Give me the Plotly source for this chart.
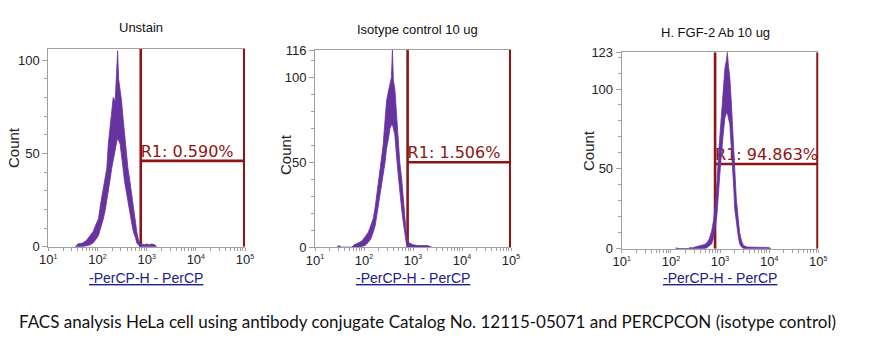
import plotly.graph_objects as go

W, H = 894, 355

# ---------------- data ----------------
titles = ["Unstain", "Isotype control 10 ug", "H. FGF-2 Ab 10 ug"]
gate_labels = ["R1: 0.590%", "R1: 1.506%", "R1: 94.863%"]
y_max = [106, 116, 123]
y_ticks = [[0, 50, 100], [0, 50, 100, 116], [0, 50, 100, 123]]

# gate: lower bound (decade), upper bound (decade), marker level (count)
gate_lo = [2.88, 2.89, 2.90]
gate_hi = [4.985, 4.985, 4.985]
gate_level = [46, 50, 53]

# histogram envelopes (decade position, upper count, lower count)
p1_dec = [1.55, 1.60, 1.70, 1.78, 1.85, 1.91, 1.97, 2.02, 2.07, 2.12, 2.16, 2.19, 2.22, 2.25,
          2.29, 2.32, 2.36, 2.39, 2.41, 2.43, 2.46, 2.49, 2.52, 2.55, 2.59, 2.62, 2.66, 2.70,
          2.73, 2.77, 2.80, 2.83, 2.86, 2.90, 2.95, 3.00, 3.05, 3.10, 3.17, 3.20]
p1_up = [0, 1.5, 2, 3.5, 6, 8, 12, 15, 24, 31, 37, 42, 55, 62,
         72, 80, 78, 92, 105, 90, 85, 78, 69, 60, 49, 42, 35, 27,
         19, 13, 8, 4, 2, 1.5, 1, 1.5, 1, 1.5, 1, 0]
p1_lo = [0, 0, 0, 0.5, 1, 2, 4, 6, 10, 15, 20, 24, 29, 35,
         42, 48, 52, 56, 58, 57, 55, 48, 42, 35, 28, 23, 18, 12,
         8, 5, 2, 1, 0, 0, 0, 0, 0, 0, 0, 0]

p2_dec = [1.45, 1.49, 1.53, 1.75, 1.80, 1.88, 1.95, 2.02, 2.09, 2.14, 2.19, 2.23, 2.26, 2.30,
          2.33, 2.36, 2.39, 2.43, 2.46, 2.50, 2.53, 2.56, 2.58, 2.60, 2.63, 2.66, 2.69, 2.71,
          2.73, 2.77, 2.80, 2.83, 2.86, 2.90, 2.95, 3.00, 3.10, 3.20, 3.30, 3.38]
p2_up = [0, 1, 0, 0, 1.5, 2.5, 3.5, 6, 9, 13, 17, 24, 31, 38,
         44, 52, 60, 75, 86, 92, 97, 100, 116, 98, 93, 80, 70, 60,
         50, 40, 29, 18, 9, 3, 2, 1.5, 1, 1, 1, 0]
p2_lo = [0, 0, 0, 0, 0, 0, 0.5, 1, 3, 5, 9, 13, 18, 24,
         30, 36, 42, 50, 58, 64, 70, 72, 72, 70, 66, 55, 45, 38,
         32, 22, 15, 8, 3, 0, 0, 0, 0, 0, 0, 0]

p3_dec = [2.10, 2.12, 2.14, 2.36, 2.39, 2.45, 2.49, 2.53, 2.60, 2.67, 2.73, 2.78, 2.83, 2.87,
          2.90, 2.94, 2.97, 3.00, 3.03, 3.06, 3.10, 3.13, 3.15, 3.17, 3.20, 3.23, 3.26, 3.28,
          3.30, 3.33, 3.37, 3.40, 3.44, 3.48, 3.55, 3.65, 3.75, 3.85, 3.95, 4.02, 4.03]
p3_up = [0, 0.7, 0, 0, 0.7, 0.5, 1, 1.3, 1.5, 2.5, 3.5, 6, 11, 18,
         27, 42, 59, 72, 86, 98, 113, 118, 123, 115, 107, 92, 75, 60,
         44, 32, 19, 10, 4.5, 2, 1, 1, 0.8, 1, 0.8, 0.5, 0]
p3_lo = [0, 0, 0, 0, 0, 0, 0, 0, 0, 0, 0.5, 1.5, 3, 7,
         12, 22, 35, 48, 60, 70, 82, 85, 85, 82, 78, 65, 50, 38,
         25, 16, 8, 3, 1, 0, 0, 0, 0, 0, 0, 0, 0]

decades = [1, 2, 3, 4, 5]

panels = [(p1_dec, p1_up, p1_lo), (p2_dec, p2_up, p2_lo), (p3_dec, p3_up, p3_lo)]

# ---------------- layout geometry (pixels) ----------------
px_x = [(48.3, 245.0), (315.0, 511.0), (621.7, 818.3)]
px_y = [(49.0, 246.7), (50.0, 247.3), (52.3, 248.7)]
count_xy = [(13, 148), (285, 155), (588, 151)]
xtitle_x = [146, 413, 720]
title_xy = [(141, 27), (417, 29), (715, 33)]

HIST = "#6633A0"
GATE = "#8E1515"
AXC = "#A0A0A0"
TXT = "#222222"

fig = go.Figure()
layout = dict(width=W, height=H, margin=dict(l=0, r=0, t=0, b=0, autoexpand=False),
              paper_bgcolor="white", plot_bgcolor="white", showlegend=False)

# x tick values: decades plus minor positions
x_tickvals, x_ticktext = [], []
for d in decades:
    for m in range(1, 10):
        if d == 5 and m > 1:
            break
        x_tickvals.append(m * 10 ** d)
        x_ticktext.append(
            f"10<sup><span style='font-size:7px'>{d}</span></sup>" if m == 1 else "")

annotations = []
for i in range(3):
    xa = "xaxis" if i == 0 else f"xaxis{i+1}"
    ya = "yaxis" if i == 0 else f"yaxis{i+1}"
    xr = "x" if i == 0 else f"x{i+1}"
    yr = "y" if i == 0 else f"y{i+1}"
    x0, x1 = px_x[i]
    yt, yb = px_y[i]
    layout[xa] = dict(type="log", range=[1, 5], domain=[x0 / W, x1 / W], anchor=yr,
                      automargin=False,
                      showgrid=False, zeroline=False, showline=True, linecolor=AXC,
                      linewidth=1, mirror=True, ticks="outside", ticklen=3, tickcolor=AXC,
                      ticklabelstandoff=-2,
                      tickvals=x_tickvals, ticktext=x_ticktext,
                      tickfont=dict(family="Liberation Sans", size=13, color=TXT))
    layout[ya] = dict(range=[0, y_max[i]], domain=[1 - yb / H, 1 - yt / H], anchor=xr,
                      automargin=False,
                      showgrid=False, zeroline=False, showline=True, linecolor=AXC,
                      linewidth=1, ticks="outside", ticklen=5, tickcolor=AXC,
                      tickvals=y_ticks[i], ticktext=[str(v) for v in y_ticks[i]],
                      minor=dict(tickmode="linear", tick0=0, dtick=10, ticks="outside",
                                 ticklen=3, tickcolor=AXC, showgrid=False),
                      tickfont=dict(family="Liberation Sans", size=13, color=TXT))

    lo = 10 ** gate_lo[i]
    hi = 10 ** gate_hi[i]
    lvl = gate_level[i]
    # gate lines
    fig.add_trace(go.Scatter(x=[lo, lo, None, hi, hi, None, lo, hi],
                             y=[0, y_max[i], None, 0, y_max[i], None, lvl, lvl],
                             mode="lines", line=dict(color=GATE, width=2.6),
                             xaxis=xr, yaxis=yr, hoverinfo="skip"))
    # gate label
    fig.add_trace(go.Scatter(x=[lo], y=[lvl], mode="text", text=[gate_labels[i]],
                             textposition="top right",
                             textfont=dict(family="DejaVu Sans", size=16, color=GATE),
                             xaxis=xr, yaxis=yr, hoverinfo="skip"))
    # histogram band
    dec, up, lw = panels[i]
    xs = [10 ** v for v in dec]
    fig.add_trace(go.Scatter(x=xs + xs[::-1], y=up + lw[::-1], mode="lines",
                             fill="toself", fillcolor=HIST,
                             line=dict(color=HIST, width=0.8),
                             xaxis=xr, yaxis=yr, hoverinfo="skip"))

    # x-axis title (underlined)
    annotations.append(dict(text="<u>-PerCP-H - PerCP</u>", x=xtitle_x[i] / W,
                            y=1 - 278 / H, xref="paper", yref="paper", showarrow=False,
                            xanchor="center", yanchor="middle",
                            font=dict(family="Liberation Sans", size=14, color="#20208A")))
    # y-axis title
    annotations.append(dict(text="Count", x=count_xy[i][0] / W, y=1 - count_xy[i][1] / H,
                            xref="paper", yref="paper", showarrow=False, textangle=-90,
                            xanchor="center", yanchor="middle",
                            font=dict(family="Liberation Sans", size=15, color=TXT)))
    # panel title
    annotations.append(dict(text=titles[i], x=title_xy[i][0] / W,
                            y=1 - title_xy[i][1] / H, xref="paper", yref="paper",
                            showarrow=False, xanchor="center", yanchor="middle",
                            font=dict(family="Liberation Sans", size=13, color="#111111")))

annotations.append(dict(
    text="FACS analysis HeLa cell using antibody conjugate Catalog No. 12115-05071 and PERCPCON (isotype control)",
    x=17 / W, y=1 - 321 / H, xref="paper", yref="paper", showarrow=False,
    xanchor="left", yanchor="middle",
    font=dict(family="Lato", size=17, color="#111111")))

layout["annotations"] = annotations
fig.update_layout(**layout)
fig.write_html("out.html", config={"displayModeBar": False},
               post_script="document.body.style.margin='0px';document.body.style.padding='0px';")
